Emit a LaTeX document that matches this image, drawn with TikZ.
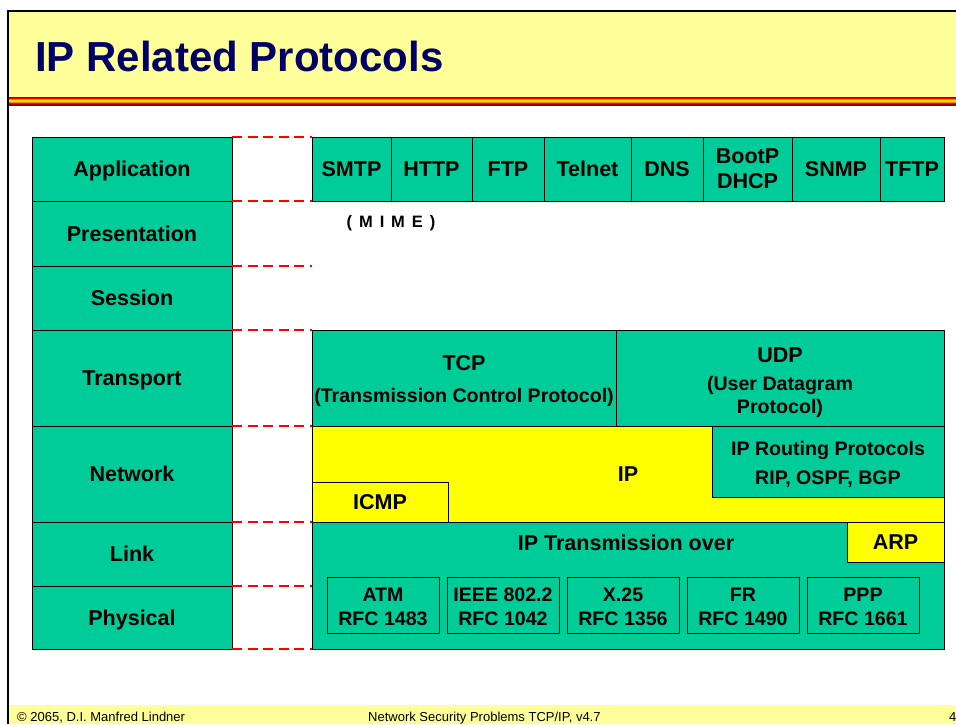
\documentclass[tikz,border=0pt]{standalone}
\usepackage{fontspec}
\setmainfont{Liberation Sans}
\usetikzlibrary{positioning}
\definecolor{slidegreen}{HTML}{00CC99}
\definecolor{ipyellow}{HTML}{FFFF00}
\definecolor{headyellow}{HTML}{FFFF99}
\definecolor{titleblue}{HTML}{000066}
\definecolor{dashred}{HTML}{FF0000}
\newcommand{\LayerFont}{\fontsize{21.5}{25}\selectfont\bfseries}
\newcommand{\NoteFont}{\fontsize{19.6}{22.5}\selectfont\bfseries}
\newcommand{\TopStrut}[1]{\rule{0pt}{#1}}
\tikzset{
    layer/.style={draw, line width=1pt, fill=slidegreen, inner sep=0pt, outer sep=0pt,
      minimum width=200pt, anchor=north west, text depth=0pt, font=\LayerFont},
    proto/.style={draw, line width=1pt, fill=slidegreen, inner sep=0pt, outer sep=0pt,
      minimum height=64pt, anchor=north west, align=center, font=\LayerFont},
    ipbox/.style={proto, fill=ipyellow},
    subbox/.style={draw, line width=0.8pt, inner sep=0pt, outer sep=0pt, anchor=north west,
      minimum width=112pt, minimum height=56pt, align=center, font=\NoteFont},
    sepline/.style={draw=dashred, line width=1.2pt, dash pattern=on 10pt off 5.5pt},
}

\begin{document}
\begin{tikzpicture}[x=1pt, y=-1pt]
    \useasboundingbox (0,0) rectangle (956,724);
    \clip (0,0) rectangle (956,724);

    \fill[headyellow] (9,11) rectangle (956,97);
    \foreach \c [count=\i] in {red!60!black, red, orange, yellow!80!orange, orange, red, red!60!black}
      \fill[\c] (9,{95.2+1.3*\i}) rectangle (956,{96.5+1.3*\i});
    \fill[headyellow] (9,705) rectangle (956,724);
    \draw[line width=2pt] (8,724) -- (8,10.5) -- (956,10.5);

    \node[anchor=base west, inner sep=0pt, text=titleblue, font=\fontsize{42}{46}\selectfont\bfseries]
      (title) at (35,71) {IP Related Protocols};

    \node[layer, minimum height=64pt] (application) at (32,137) {Application};
    \node[layer, minimum height=65pt, below=0pt of application] (presentation) {Presentation};
    \node[layer, minimum height=64pt, below=0pt of presentation] (session) {Session};
    \node[layer, minimum height=96pt, below=0pt of session] (transport) {Transport};
    \node[layer, minimum height=96pt, below=0pt of transport] (network) {Network};
    \node[layer, minimum height=64pt, below=0pt of network] (link) {Link};
    \node[layer, minimum height=63pt, below=0pt of link] (physical) {Physical};

    \node[proto, minimum width=79pt] (smtp) at (312,137) {SMTP};
    \node[proto, minimum width=81pt, right=0pt of smtp] (http) {HTTP};
    \node[proto, minimum width=72pt, right=0pt of http] (ftp) {FTP};
    \node[proto, minimum width=87pt, right=0pt of ftp] (telnet) {Telnet};
    \node[proto, minimum width=72pt, right=0pt of telnet] (dns) {DNS};
    \node[proto, minimum width=89pt, right=0pt of dns] (bootp) {BootP\\DHCP};
    \node[proto, minimum width=88pt, right=0pt of bootp] (snmp) {SNMP};
    \node[proto, minimum width=64pt, right=0pt of snmp] (tftp) {TFTP};

    \node[font=\fontsize{16.5}{18}\selectfont\bfseries\addfontfeature{LetterSpace=14}]
      (mime) at (391,223) {( M I M E )};

    \node[proto, minimum width=304pt, minimum height=96pt] (tcp) at (312,330)
      {\TopStrut{22pt}TCP\\[7pt]{\NoteFont (Transmission Control Protocol)}};
    \node[proto, minimum width=328pt, minimum height=96pt, right=0pt of tcp] (udp)
      {\TopStrut{24pt}UDP\\[3pt]{\NoteFont (User Datagram}\\[-2.5pt]{\NoteFont Protocol)}};

    \node[ipbox, minimum width=632pt, minimum height=96pt] (ip) at (312,426) {IP};
    \node[proto, anchor=north east, minimum width=232pt, minimum height=71pt, font=\NoteFont]
      (routing) at (ip.north east) {\TopStrut{20pt}IP Routing Protocols\\[6pt]RIP, OSPF, BGP};
    \node[ipbox, anchor=south west, minimum width=136pt, minimum height=40pt]
      (icmp) at (ip.south west) {ICMP};

    \node[proto, minimum width=632pt, minimum height=127pt] (linkphys) at (312,522) {};
    \node[ipbox, anchor=north east, minimum width=97pt, minimum height=40pt]
      (arp) at (linkphys.north east) {ARP};
    \node[font=\LayerFont] (ipover) at (626,543) {IP Transmission over};
    \foreach \name/\top/\bot [count=\i] in {atm/ATM/RFC 1483, ieee/IEEE 802.2/RFC 1042,
        xtf/X.25/RFC 1356, fr/FR/RFC 1490, ppp/PPP/RFC 1661}
      \node[subbox] (\name) at ({327+120*(\i-1)},577) {\TopStrut{17pt}\top\\[1.5pt]\bot};

    \draw[sepline] (application.north east) -- (smtp.north west);
    \draw[sepline] (application.south east) -- (smtp.south west);
    \draw[sepline] (session.north east) -- ++(80,0);
    \draw[sepline] (transport.north east) -- (tcp.north west);
    \draw[sepline] (network.north east) -- (ip.north west);
    \draw[sepline] (link.north east) -- (linkphys.north west);
    \draw[sepline] (physical.north east) -- (linkphys.west |- physical.north);
    \draw[sepline] (physical.south east) -- (linkphys.south west);

    \node[anchor=base west, inner sep=0pt, font=\fontsize{13}{15}\selectfont]
      (copyright) at (17,721) {© 2065, D.I. Manfred Lindner};
    \node[anchor=base west, inner sep=0pt, font=\fontsize{13}{15}\selectfont]
      (course) at (368,721) {Network Security Problems TCP/IP, v4.7};
    \node[anchor=base west, inner sep=0pt, font=\fontsize{13}{15}\selectfont]
      (page) at (949,721) {4};
\end{tikzpicture}
\end{document}
